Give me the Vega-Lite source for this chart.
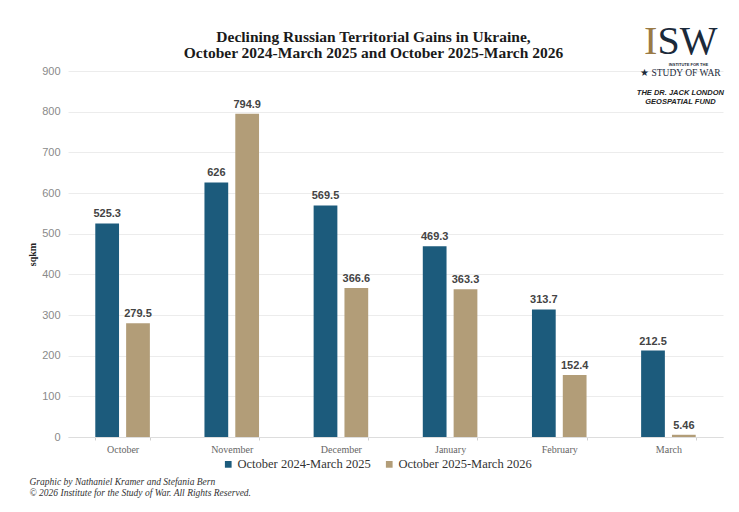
{
  "$schema": "https://vega.github.io/schema/vega-lite/v6.json",
  "width": 655,
  "height": 366,
  "autosize": {"type": "none"},
  "padding": {"left": 68, "top": 71, "right": 16, "bottom": 75},
  "background": "white",
  "title": {
    "text": ["Declining Russian Territorial Gains in Ukraine,", "October 2024-March 2025 and October 2025-March 2026"],
    "font": "Liberation Serif",
    "fontSize": 15.5,
    "fontWeight": "bold",
    "color": "#1a1a1a",
    "lineHeight": 16,
    "anchor": "middle",
    "frame": "group",
    "dx": -22,
    "offset": -40
  },
  "config": {
    "view": {"stroke": null},
    "axis": {"labelFont": "Liberation Sans", "titleFont": "Liberation Serif"}
  },
  "datasets": {
    "gains": [
      {"month": "October", "period": "October 2024-March 2025", "sqkm": 525.3},
      {"month": "October", "period": "October 2025-March 2026", "sqkm": 279.5},
      {"month": "November", "period": "October 2024-March 2025", "sqkm": 626},
      {"month": "November", "period": "October 2025-March 2026", "sqkm": 794.9},
      {"month": "December", "period": "October 2024-March 2025", "sqkm": 569.5},
      {"month": "December", "period": "October 2025-March 2026", "sqkm": 366.6},
      {"month": "January", "period": "October 2024-March 2025", "sqkm": 469.3},
      {"month": "January", "period": "October 2025-March 2026", "sqkm": 363.3},
      {"month": "February", "period": "October 2024-March 2025", "sqkm": 313.7},
      {"month": "February", "period": "October 2025-March 2026", "sqkm": 152.4},
      {"month": "March", "period": "October 2024-March 2025", "sqkm": 212.5},
      {"month": "March", "period": "October 2025-March 2026", "sqkm": 5.46}
    ],
    "logo1": [{"t": "I"}],
    "logo2": [{"t": "SW"}],
    "logo3": [{"t": "INSTITUTE FOR THE"}],
    "logo4": [{"t": "★ STUDY OF WAR"}],
    "logo5": [{"t": "THE DR. JACK LONDON"}],
    "logo6": [{"t": "GEOSPATIAL FUND"}]
  },
  "layer": [
    {
      "data": {"name": "gains"},
      "mark": {"type": "bar"},
      "encoding": {
        "x": {
          "field": "month", "type": "nominal",
          "sort": ["October", "November", "December", "January", "February", "March"],
          "scale": {"paddingInner": 0.5, "paddingOuter": 0.25},
          "axis": {
            "labelFont": "Liberation Serif", "labelFontSize": 10, "labelColor": "#666", "labelAngle": 0, "labelPadding": 4,
            "domainColor": "#dddddd", "tickColor": "#d0d0d0", "tickSize": 3, "tickBand": "extent",
            "title": ["Graphic by Nathaniel Kramer and Stefania Bern", "© 2026 Institute for the Study of War. All Rights Reserved."],
            "titleFont": "Liberation Serif", "titleFontStyle": "italic", "titleFontWeight": "normal", "titleFontSize": 9.5,
            "titleColor": "#333", "titleAnchor": "start", "titleAlign": "left", "titleBaseline": "top",
            "titleX": -39, "titleY": 39, "titleLineHeight": 11
          }
        },
        "xOffset": {
          "field": "period", "type": "nominal",
          "sort": ["October 2024-March 2025", "October 2025-March 2026"],
          "scale": {"paddingInner": 0.23, "paddingOuter": 0}
        },
        "y": {
          "field": "sqkm", "type": "quantitative",
          "scale": {"domain": [0, 900], "nice": false},
          "axis": {
            "values": [0, 100, 200, 300, 400, 500, 600, 700, 800, 900],
            "labelFontSize": 11, "labelColor": "#8a8a8a", "labelPadding": 8,
            "domain": false, "ticks": false, "gridColor": "#ececec",
            "title": "sqkm", "titleFontWeight": "bold", "titleFontSize": 10, "titleColor": "#222", "titlePadding": 4
          }
        },
        "color": {
          "field": "period", "type": "nominal",
          "sort": ["October 2024-March 2025", "October 2025-March 2026"],
          "scale": {"range": ["#1c5b7c", "#b29d78"]},
          "legend": {
            "title": null, "orient": "none", "direction": "horizontal",
            "legendX": 154, "legendY": 387,
            "symbolType": "square", "symbolSize": 45, "symbolStrokeWidth": 0,
            "labelFont": "Liberation Serif", "labelFontSize": 12.5, "labelColor": "#333",
            "labelOffset": 3, "columnPadding": 12
          }
        }
      }
    },
    {
      "data": {"name": "gains"},
      "mark": {"type": "text", "font": "Liberation Sans", "fontWeight": "bold", "fontSize": 11, "color": "#444", "baseline": "alphabetic", "dy": -6},
      "encoding": {
        "x": {"field": "month", "type": "nominal", "sort": ["October", "November", "December", "January", "February", "March"]},
        "xOffset": {"field": "period", "type": "nominal", "sort": ["October 2024-March 2025", "October 2025-March 2026"]},
        "y": {"field": "sqkm", "type": "quantitative"},
        "text": {"field": "sqkm", "type": "quantitative"}
      }
    },
    {
      "data": {"name": "logo1"},
      "mark": {"type": "text", "font": "Liberation Serif", "fontSize": 40, "color": "#9a7a45", "align": "right", "baseline": "alphabetic", "dx": -11},
      "encoding": {"x": {"datum": "March"}, "y": {"datum": 942}, "text": {"field": "t"}}
    },
    {
      "data": {"name": "logo2"},
      "mark": {"type": "text", "font": "Liberation Serif", "fontSize": 40, "color": "#1b2a3a", "align": "left", "baseline": "alphabetic", "dx": -11},
      "encoding": {"x": {"datum": "March"}, "y": {"datum": 942}, "text": {"field": "t"}}
    },
    {
      "data": {"name": "logo3"},
      "mark": {"type": "text", "font": "Liberation Sans", "fontWeight": "bold", "fontSize": 4, "color": "#1b2a3a", "align": "center", "baseline": "alphabetic", "dx": 20},
      "encoding": {"x": {"datum": "March"}, "y": {"datum": 912}, "text": {"field": "t"}}
    },
    {
      "data": {"name": "logo4"},
      "mark": {"type": "text", "font": "Liberation Serif", "fontSize": 9.5, "color": "#1b2a3a", "align": "center", "baseline": "alphabetic", "dx": 12},
      "encoding": {"x": {"datum": "March"}, "y": {"datum": 887}, "text": {"field": "t"}}
    },
    {
      "data": {"name": "logo5"},
      "mark": {"type": "text", "font": "Liberation Sans", "fontWeight": "bold", "fontStyle": "italic", "fontSize": 7.5, "color": "#222", "align": "center", "baseline": "alphabetic", "dx": 12},
      "encoding": {"x": {"datum": "March"}, "y": {"datum": 841}, "text": {"field": "t"}}
    },
    {
      "data": {"name": "logo6"},
      "mark": {"type": "text", "font": "Liberation Sans", "fontWeight": "bold", "fontStyle": "italic", "fontSize": 7.5, "color": "#222", "align": "center", "baseline": "alphabetic", "dx": 12},
      "encoding": {"x": {"datum": "March"}, "y": {"datum": 819}, "text": {"field": "t"}}
    }
  ]
}
